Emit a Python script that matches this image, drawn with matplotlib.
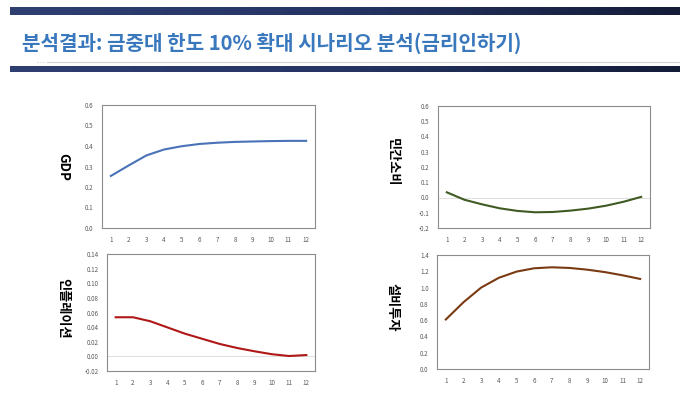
import numpy as np
import matplotlib.pyplot as plt
from matplotlib.colors import LinearSegmentedColormap

plt.rcParams['font.family'] = ['Noto Sans CJK KR', 'DejaVu Sans']

title = "분석결과: 금중대 한도 10% 확대 시나리오 분석(금리인하기)"

periods = list(range(1, 13))

gdp = [0.254, 0.305, 0.354, 0.383, 0.399, 0.410, 0.416, 0.420, 0.422, 0.424, 0.425, 0.425]
consumption = [0.034, -0.015, -0.045, -0.071, -0.088, -0.097, -0.095, -0.086, -0.073, -0.054, -0.028, 0.004]
inflation = [0.0535, 0.0535, 0.048, 0.0395, 0.031, 0.024, 0.017, 0.0115, 0.007, 0.003, 0.0005, 0.0018]
investment = [0.608, 0.82, 1.0, 1.12, 1.196, 1.237, 1.249, 1.241, 1.22, 1.19, 1.151, 1.106]

W, H = 680, 397
fig = plt.figure(figsize=(W / 100, H / 100), dpi=100)


def box(x0, y0, x1, y1):
    # pixel box (top-left origin) -> figure fraction
    return [x0 / W, 1 - y1 / H, (x1 - x0) / W, (y1 - y0) / H]


# header bars
navy = LinearSegmentedColormap.from_list('nv', ['#2f3f72', '#253463', '#141c38'])
grad = np.linspace(0, 1, 256).reshape(1, -1)
for y0, y1 in [(7, 15), (66, 72)]:
    bar = fig.add_axes(box(10, y0, 680, y1))
    bar.imshow(grad, aspect='auto', cmap=navy)
    bar.axis('off')

fig.add_artist(plt.Line2D([47 / W, 1], [1 - 62 / H] * 2, color='#d0d0d0', lw=0.8))
fig.add_artist(plt.Line2D([37 / W, 45 / W], [1 - 62 / H] * 2, color='#d0d0d0', lw=0.8, ls=':'))

fig.text(22 / W, 1 - 43 / H, title, fontsize=14.5, fontweight='heavy', color='#3a78bd',
         va='center', ha='left')

panels = [
    (gdp, '#4a72b8', (0.0, 0.6), 0.1, '{:.1f}', box(102, 105, 315, 228), 'GDP', (63, 167)),
    (consumption, '#3f5a22', (-0.2, 0.6), 0.1, '{:.1f}', box(438, 106, 650, 228), '민간소비', (393, 162)),
    (inflation, '#b01818', (-0.02, 0.14), 0.02, '{:.2f}', box(107, 254, 315, 371), '인플레이션', (63, 308)),
    (investment, '#7a3a12', (0.0, 1.4), 0.2, '{:.1f}', box(437, 255, 649, 369), '설비투자', (393, 307)),
]

for vals, color, ylim, step, fmt, rect, label, (lx, ly) in panels:
    ax = fig.add_axes(rect)
    ax.plot(periods, vals, color=color, lw=1.5)
    ax.set_xlim(0.5, 12.5)
    ax.set_ylim(*ylim)
    yt = np.arange(ylim[0], ylim[1] + step / 2, step)
    ax.set_yticks(yt)
    ax.set_yticklabels([fmt.format(0.0 if abs(v) < 1e-9 else v) for v in yt])
    ax.set_xticks(periods)
    if ylim[0] < 0:
        ax.axhline(0, color='#d9d9d9', lw=0.6, zorder=0)
    ax.tick_params(length=0, labelsize=4.5, labelcolor='#595959', pad=6)
    for s in ax.spines.values():
        s.set_color('#8c8c8c')
        s.set_linewidth(0.8)
    fig.text(lx / W, 1 - ly / H, label, fontsize=9.5, fontweight='heavy', rotation=270,
             ha='center', va='center', color='black')

fig.savefig('out.png', dpi=100)
